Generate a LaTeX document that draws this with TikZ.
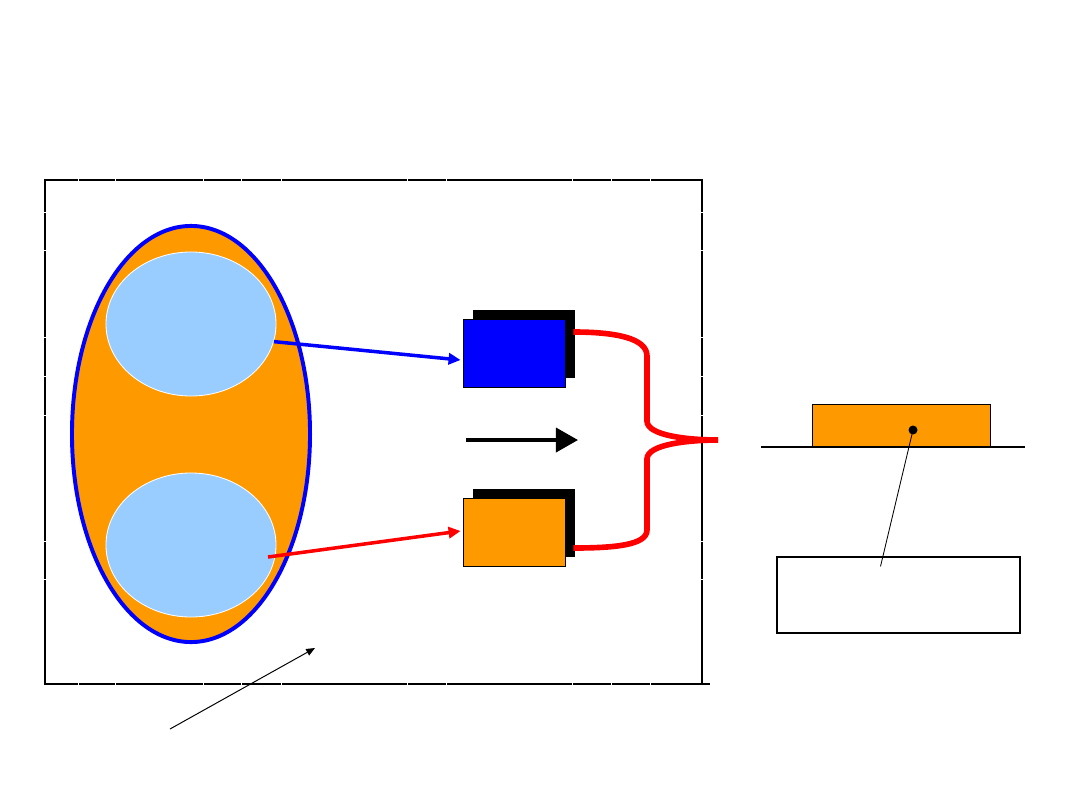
\documentclass[tikz,border=0pt]{standalone}
\usepackage{xcolor}
\usepackage{tikz}
\usetikzlibrary{arrows.meta,positioning,calc,shapes.geometric,shadows}
\definecolor{amber}{HTML}{FF9900}
\definecolor{paleblue}{HTML}{99CCFF}
\tikzset{
  frameline/.style={line width=1.4pt},
  framegap/.style={white,line width=0.5pt},
  outerbody/.style={ellipse,draw=blue,fill=amber,line width=2.8pt,inner sep=0pt,
    minimum width=5.95cm,minimum height=10.4cm},
  innerbody/.style={ellipse,draw=white,fill=paleblue,line width=0.6pt,inner sep=0pt,
    minimum width=4.25cm,minimum height=3.6cm},
  stackbox/.style={draw=black,line width=0.6pt,inner sep=0pt,minimum width=2.55cm,
    minimum height=1.7cm,drop shadow={shadow xshift=0.24cm,shadow yshift=0.23cm,
    fill=black,opacity=1}},
  colourarrow/.style={-{Triangle[length=3mm,width=2.8mm]},line width=2.5pt},
  bigarrow/.style={-{Triangle[length=5.5mm,width=6mm]},line width=2.6pt},
  thinarrow/.style={-{Triangle[length=2.2mm,width=1.8mm]},line width=0.7pt},
  bracket/.style={draw=red,line width=4pt},
  slab/.style={draw=black,fill=amber,line width=0.6pt,inner sep=0pt,
    minimum width=4.45cm,minimum height=1.075cm},
  notebox/.style={draw=black,fill=white,line width=0.8pt,inner sep=0pt,
    minimum width=6.075cm,minimum height=1.9cm}
}
\begin{document}
\begin{tikzpicture}[x=0.025cm,y=-0.025cm]
  \useasboundingbox (0,0) rectangle (1080,810);
  % frame with small breaks
  \draw[frameline] (45,180) rectangle (702,684);
  \draw[frameline] (702,684) -- (710,684);
  \foreach \x in {78,115,203,241,281,407,446,572,611,650} {
    \draw[framegap] (\x,177) -- (\x,183);
    \draw[framegap] (\x,681) -- (\x,687);
  }
  \foreach \y in {212,250,337,376,415,541,579} {
    \draw[framegap] (42,\y) -- (48,\y);
    \draw[framegap] (699,\y) -- (705,\y);
  }
  % left body
  \node[outerbody] (body) at (191,434) {};
  \node[innerbody] (upper) at (191,324) {};
  \node[innerbody] (lower) at (191,545) {};
  % boxes
  \node[stackbox,fill=blue] (bluebox) at (514,353) {};
  \node[stackbox,fill=amber] (amberbox) at (514,532) {};
  \draw[colourarrow,blue] (upper.-12) -- ($(bluebox.west)+(-2,7)$);
  \draw[colourarrow,red] ($(lower.center)+(77,12)$) -- ($(amberbox.west)+(-2,-1)$);
  \coordinate (flowstart) at (466,440);
  \coordinate (flowend) at (578,440);
  \draw[bigarrow] (flowstart) -- (flowend);
  % brace
  \coordinate (bracetip) at (718,440);
  \draw[bracket] ($(bluebox.east)+(8,-21)$) .. controls (615,332) and (647,338) .. (647,356)
    -- (647,421) .. controls (647,436) and (690,440) .. (bracetip);
  \draw[bracket] (bracetip) .. controls (690,440) and (647,444) .. (647,459)
    -- (647,530) .. controls (647,545) and (615,548) .. ($(amberbox.east)+(8,16)$);
  % right part
  \coordinate (groundleft) at (761,447);
  \coordinate (groundright) at (1025,447);
  \node[slab] (slab) at (901,425.5) {};
  \draw[line width=0.8pt] (groundleft) -- (groundright);
  \node[notebox] (note) at (898.5,595) {};
  \fill ($(slab.center)+(12,4.5)$) circle (4.5) coordinate (dot);
  \draw[line width=0.6pt] (dot) -- ($(note.north)+(-18,10)$);
  % lower pointer
  \coordinate (pointfrom) at (170,729);
  \coordinate (pointto) at (315,648);
  \draw[thinarrow] (pointfrom) -- (pointto);
\end{tikzpicture}
\end{document}
